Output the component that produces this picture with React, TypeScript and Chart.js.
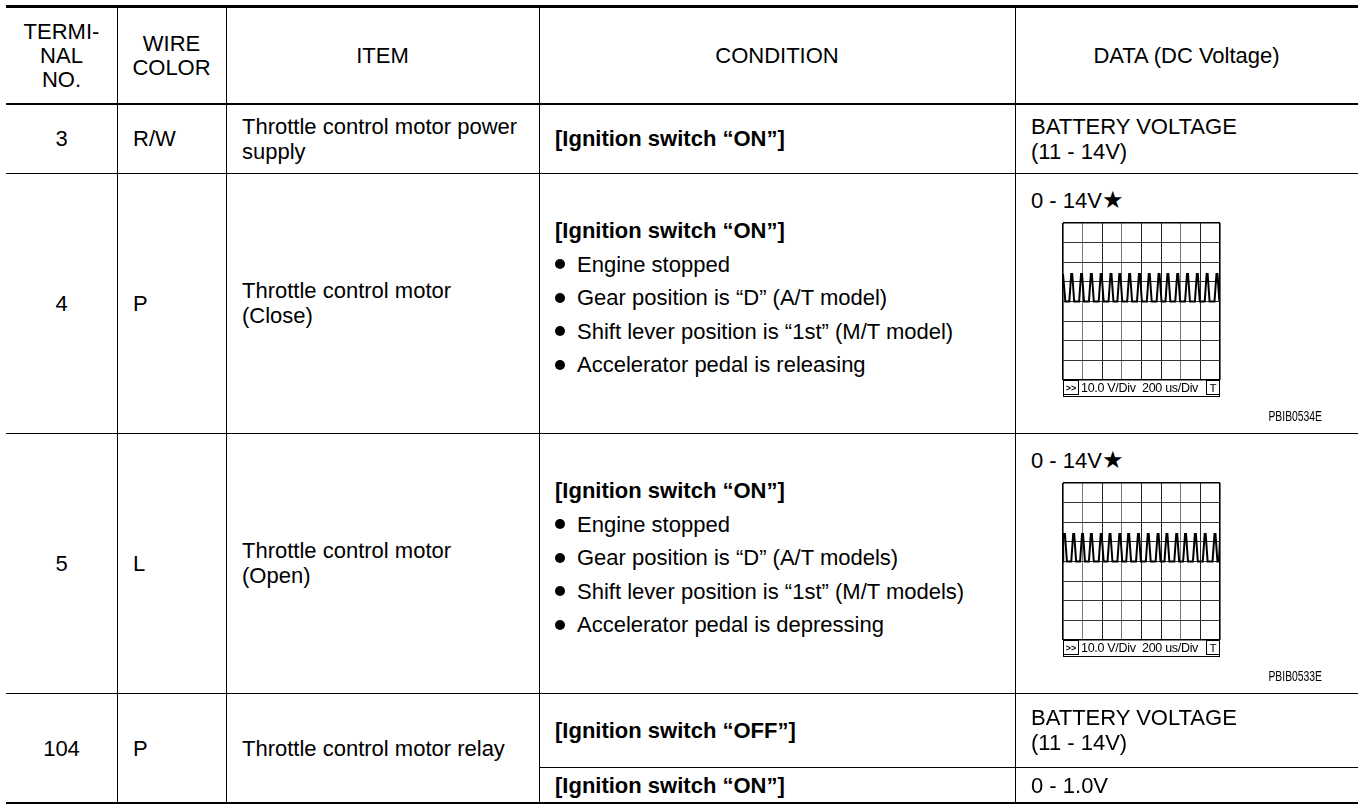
import React, { useEffect, useRef } from "react";
import { Chart, registerables } from "chart.js";

Chart.register(...registerables);

// ---------- DATA ----------
const HEADER_LABELS = [["TERMI-", "NAL", "NO."], ["WIRE", "COLOR"], ["ITEM"], ["CONDITION"], ["DATA (DC Voltage)"]];
const TERMINAL_NOS = ["3", "4", "5", "104"];
const WIRE_COLORS = ["R/W", "P", "L", "P"];
const ITEM_LINES = [
  ["Throttle control motor power", "supply"],
  ["Throttle control motor", "(Close)"],
  ["Throttle control motor", "(Open)"],
  ["Throttle control motor relay"],
];
const IGN_ON = "[Ignition switch “ON”]";
const IGN_OFF = "[Ignition switch “OFF”]";
const CLOSE_CONDITIONS = [
  "Engine stopped",
  "Gear position is “D” (A/T model)",
  "Shift lever position is “1st” (M/T model)",
  "Accelerator pedal is releasing",
];
const OPEN_CONDITIONS = [
  "Engine stopped",
  "Gear position is “D” (A/T models)",
  "Shift lever position is “1st” (M/T models)",
  "Accelerator pedal is depressing",
];
const BATTERY_LINES = ["BATTERY VOLTAGE", "(11 - 14V)"];
const PULSE_RANGE = "0 - 14V★";
const RELAY_ON_VALUE = "0 - 1.0V";
const SCOPE_SCALE = "10.0 V/Div  200 us/Div";
const FIGURE_IDS = ["PBIB0534E", "PBIB0533E"];

// oscilloscope: x in divisions (0..8, 200 us/Div), y in volts (10 V/Div, 0 V at centre line)
const CLOSE_WAVE: [number, number][] = [
  [0, 14], [0.02, 14], [0.12, 0],
  [0.32, 0], [0.42, 14], [0.47, 14], [0.57, 0],
  [0.82, 0], [0.92, 14], [0.97, 14], [1.07, 0],
  [1.32, 0], [1.42, 14], [1.47, 14], [1.57, 0],
  [1.82, 0], [1.92, 14], [1.97, 14], [2.07, 0],
  [2.32, 0], [2.42, 14], [2.47, 14], [2.57, 0],
  [2.77, 0], [2.87, 14], [2.92, 14], [3.02, 0],
  [3.27, 0], [3.37, 14], [3.42, 14], [3.52, 0],
  [3.77, 0], [3.87, 14], [3.92, 14], [4.02, 0],
  [4.27, 0], [4.37, 14], [4.42, 14], [4.52, 0],
  [4.77, 0], [4.87, 14], [4.92, 14], [5.02, 0],
  [5.22, 0], [5.32, 14], [5.37, 14], [5.47, 0],
  [5.72, 0], [5.82, 14], [5.87, 14], [5.97, 0],
  [6.22, 0], [6.32, 14], [6.37, 14], [6.47, 0],
  [6.72, 0], [6.82, 14], [6.87, 14], [6.97, 0],
  [7.22, 0], [7.32, 14], [7.37, 14], [7.47, 0],
  [7.72, 0], [7.82, 14], [7.87, 14], [7.97, 0],
  [7.99, 0], [8, 14],
];
const OPEN_WAVE: [number, number][] = [
  [0, 0], [0.01, 14], [0.1, 14], [0.2, 0],
  [0.42, 0], [0.52, 14], [0.57, 14], [0.67, 0],
  [0.87, 0], [0.97, 14], [1.02, 14], [1.12, 0],
  [1.32, 0], [1.42, 14], [1.47, 14], [1.57, 0],
  [1.82, 0], [1.92, 14], [1.97, 14], [2.07, 0],
  [2.27, 0], [2.37, 14], [2.42, 14], [2.52, 0],
  [2.77, 0], [2.87, 14], [2.92, 14], [3.02, 0],
  [3.22, 0], [3.32, 14], [3.37, 14], [3.47, 0],
  [3.72, 0], [3.82, 14], [3.87, 14], [3.97, 0],
  [4.22, 0], [4.32, 14], [4.37, 14], [4.47, 0],
  [4.72, 0], [4.82, 14], [4.87, 14], [4.97, 0],
  [5.17, 0], [5.27, 14], [5.32, 14], [5.42, 0],
  [5.67, 0], [5.77, 14], [5.82, 14], [5.92, 0],
  [6.12, 0], [6.22, 14], [6.27, 14], [6.37, 0],
  [6.62, 0], [6.72, 14], [6.77, 14], [6.87, 0],
  [7.12, 0], [7.22, 14], [7.27, 14], [7.37, 0],
  [7.62, 0], [7.72, 14], [7.77, 14], [7.87, 0],
  [7.95, 0], [8, 12],
];
const X_DIV_TICKS = [0, 1, 2, 3, 4, 5, 6, 7, 8];
const Y_VOLT_TICKS = [-40, -30, -20, -10, 0, 10, 20, 30, 40];

// ---------- LAYOUT (styling only) ----------
const COL_X = [6, 117, 226, 539, 1015, 1358];
const ROW_Y = [104, 173, 433, 693, 803];
const SPLIT_Y = 767;
const FONT = '"Liberation Sans", Arial, Helvetica, sans-serif';
const FS = 22;

const abs = (l: number, t: number, w: number, h: number): React.CSSProperties => ({
  position: "absolute", left: l, top: t, width: w, height: h,
});

function HLine({ x1, x2, y, h = 1 }: { x1: number; x2: number; y: number; h?: number }) {
  return <div style={{ ...abs(x1, y, x2 - x1, h), background: "#000" }} />;
}
function VLine({ x, y1, y2 }: { x: number; y1: number; y2: number }) {
  return <div style={{ ...abs(x, y1, 1, y2 - y1), background: "#000" }} />;
}

function Cell({ l, r, t, b, lines, align = "center", pad = 16, lh = 25, bold = false }:
  { l: number; r: number; t: number; b: number; lines: string[]; align?: "center" | "left"; pad?: number; lh?: number; bold?: boolean }) {
  return (
    <div style={{
      ...abs(l, t, r - l, b - t), display: "flex", flexDirection: "column", justifyContent: "center",
      alignItems: align === "center" ? "center" : "flex-start", paddingLeft: align === "left" ? pad : 0,
      boxSizing: "border-box", lineHeight: lh + "px", fontWeight: bold ? 700 : 400, whiteSpace: "pre",
      textAlign: align,
    }}>
      {lines.map((s, i) => <div key={i}>{s}</div>)}
    </div>
  );
}

function ConditionBlock({ top, items }: { top: number; items: string[] }) {
  const lh = 33.5;
  return (
    <div style={{ position: "absolute", left: COL_X[3] + 16, top, whiteSpace: "pre" }}>
      <div style={{ height: lh, lineHeight: lh + "px", fontWeight: 700 }}>{IGN_ON}</div>
      {items.map((s, i) => (
        <div key={i} style={{ height: lh, lineHeight: lh + "px", display: "flex", alignItems: "center" }}>
          <span style={{ display: "inline-block", width: 10, height: 10, borderRadius: 5, background: "#000", marginRight: 12 }} />
          <span>{s}</span>
        </div>
      ))}
    </div>
  );
}

const INNER_X_COLORS = ["#000", "#777", "#222", "#777", "#222", "#222", "#777", "#222", "#000"];

function Scope({ wave, left, top }: { wave: [number, number][]; left: number; top: number }) {
  const ref = useRef<HTMLCanvasElement>(null);
  useEffect(() => {
    const chart = new Chart(ref.current as HTMLCanvasElement, {
      type: "line",
      data: {
        datasets: [{
          data: wave.map(([x, y]) => ({ x, y })),
          borderColor: "#000", borderWidth: 2, pointRadius: 0, tension: 0, fill: false,
        }],
      },
      options: {
        animation: false, responsive: false, maintainAspectRatio: false, events: [],
        layout: { padding: 1 },
        plugins: { legend: { display: false }, tooltip: { enabled: false } },
        scales: {
          x: {
            type: "linear", min: 0, max: 8,
            afterBuildTicks: (s: any) => { s.ticks = X_DIV_TICKS.map((v) => ({ value: v })); },
            ticks: { display: false },
            grid: {
              drawTicks: false,
              color: (c: any) => INNER_X_COLORS[X_DIV_TICKS.indexOf(c.tick?.value)] || "#333",
              lineWidth: (c: any) => (c.tick && (c.tick.value === 0 || c.tick.value === 8) ? 1.6 : 1),
            },
            border: { display: false },
          },
          y: {
            type: "linear", min: -40, max: 40,
            afterBuildTicks: (s: any) => { s.ticks = Y_VOLT_TICKS.map((v) => ({ value: v })); },
            ticks: { display: false },
            grid: {
              drawTicks: false,
              color: (c: any) => (c.tick && Math.abs(c.tick.value) === 40 ? "#000" : "#333"),
              lineWidth: (c: any) => (c.tick && Math.abs(c.tick.value) === 40 ? 1.6 : 1),
            },
            border: { display: false },
          },
        },
      },
    });
    return () => chart.destroy();
  }, [wave]);
  const size = 159;
  return (
    <>
      <canvas ref={ref} width={size} height={size}
        style={{ position: "absolute", left: left - 1, top: top - 1, width: size, height: size }} />
      <div style={{
        ...abs(left, top + 157, 157, 17), boxSizing: "border-box", borderLeft: "1.5px solid #000",
        borderRight: "1.5px solid #000", borderBottom: "1.5px solid #000", display: "flex", alignItems: "center",
        fontSize: 12.5, lineHeight: "14px", fontFamily: FONT,
      }}>
        <span style={{ boxSizing: "border-box", width: 15, height: 15, border: "1.3px solid #000", borderLeft: "none", fontSize: 9, fontWeight: 700, display: "flex", alignItems: "center", justifyContent: "center", marginTop: -1 }}>&gt;&gt;</span>
        <span style={{ flex: 1, paddingLeft: 2, whiteSpace: "pre", letterSpacing: -0.3 }}>{SCOPE_SCALE}</span>
        <span style={{ boxSizing: "border-box", width: 13, height: 15, border: "1.3px solid #000", borderRight: "none", fontSize: 11.5, display: "flex", alignItems: "center", justifyContent: "center", marginTop: -1 }}>T</span>
      </div>
    </>
  );
}

function DataScope({ rowTop, rowBottom, wave, id }: { rowTop: number; rowBottom: number; wave: [number, number][]; id: string }) {
  return (
    <>
      <div style={{ position: "absolute", left: COL_X[4] + 16, top: rowTop + 13, lineHeight: "28px", whiteSpace: "pre" }}>
        {PULSE_RANGE.slice(0, -1)}<span style={{ fontFamily: '"DejaVu Sans", sans-serif', fontSize: 24 }}>{PULSE_RANGE.slice(-1)}</span>
      </div>
      <Scope wave={wave} left={1063} top={rowTop + 50} />
      <div style={{
        position: "absolute", left: 1242, top: rowBottom - 25, width: 80, lineHeight: "16px", fontSize: 14,
        textAlign: "right", transform: "scaleX(0.74)", transformOrigin: "right center", whiteSpace: "pre",
      }}>{id}</div>
    </>
  );
}

export default function App() {
  useEffect(() => {
    document.body.style.margin = "0";
  }, []);
  const [r0, r1, r2, r3, r4] = ROW_Y;
  return (
    <div style={{ position: "absolute", left: 0, top: 0, width: 1358, height: 804, overflow: "hidden", background: "#fff", fontFamily: FONT, fontSize: FS, color: "#000" }}>
      {/* rules */}
      <HLine x1={COL_X[0]} x2={1358} y={5} h={3} />
      <HLine x1={COL_X[0]} x2={1358} y={103} h={2} />
      <HLine x1={COL_X[0]} x2={1358} y={r1} />
      <HLine x1={COL_X[0]} x2={1358} y={r2} />
      <HLine x1={COL_X[0]} x2={1358} y={r3} />
      <HLine x1={COL_X[3]} x2={1358} y={SPLIT_Y} />
      <HLine x1={COL_X[0]} x2={1358} y={r4 - 1} h={1.5} />
      {COL_X.slice(1, 5).map((x) => <VLine key={x} x={x} y1={8} y2={r4} />)}

      {/* header */}
      {HEADER_LABELS.map((lines, i) => (
        <Cell key={"h" + i} l={COL_X[i]} r={COL_X[i + 1]} t={8} b={103} lines={lines} lh={24} />
      ))}

      {/* body: terminal, wire, item */}
      {TERMINAL_NOS.map((t, i) => {
        const top = ROW_Y[i], bot = ROW_Y[i + 1];
        return (
          <React.Fragment key={"r" + i}>
            <Cell l={COL_X[0]} r={COL_X[1]} t={top} b={bot} lines={[t]} />
            <Cell l={COL_X[1]} r={COL_X[2]} t={top} b={bot} lines={[WIRE_COLORS[i]]} align="left" />
            <Cell l={COL_X[2]} r={COL_X[3]} t={top} b={bot} lines={ITEM_LINES[i]} align="left" />
          </React.Fragment>
        );
      })}

      {/* conditions */}
      <Cell l={COL_X[3]} r={COL_X[4]} t={r0} b={r1} lines={[IGN_ON]} align="left" bold />
      <ConditionBlock top={r1 + 41} items={CLOSE_CONDITIONS} />
      <ConditionBlock top={r2 + 41} items={OPEN_CONDITIONS} />
      <Cell l={COL_X[3]} r={COL_X[4]} t={r3} b={SPLIT_Y} lines={[IGN_OFF]} align="left" bold />
      <Cell l={COL_X[3]} r={COL_X[4]} t={SPLIT_Y} b={r4} lines={[IGN_ON]} align="left" bold />

      {/* data */}
      <Cell l={COL_X[4]} r={COL_X[5]} t={r0} b={r1} lines={BATTERY_LINES} align="left" />
      <DataScope rowTop={r1} rowBottom={r2} wave={CLOSE_WAVE} id={FIGURE_IDS[0]} />
      <DataScope rowTop={r2} rowBottom={r3} wave={OPEN_WAVE} id={FIGURE_IDS[1]} />
      <Cell l={COL_X[4]} r={COL_X[5]} t={r3} b={SPLIT_Y} lines={BATTERY_LINES} align="left" />
      <Cell l={COL_X[4]} r={COL_X[5]} t={SPLIT_Y} b={r4} lines={[RELAY_ON_VALUE]} align="left" />
    </div>
  );
}
